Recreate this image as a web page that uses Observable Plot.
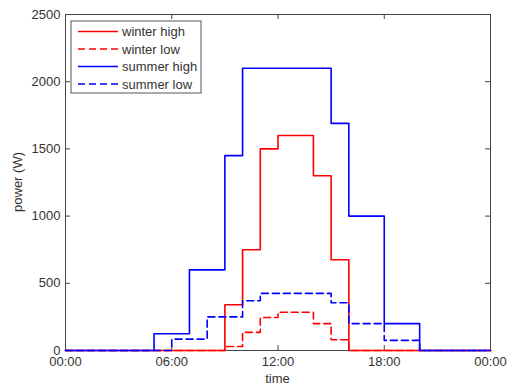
<!DOCTYPE html>
<html>
<head>
<meta charset="utf-8">
<script src="https://cdn.jsdelivr.net/npm/d3@7"></script>
<script src="https://cdn.jsdelivr.net/npm/@observablehq/plot@0.6"></script>
<style>
  html, body { margin: 0; padding: 0; background: #fff; }
  #chart { position: relative; width: 509px; height: 386px; }
</style>
</head>
<body>
<div id="chart"></div>
<script>
// hours 0..23 (value holds until next hour)
const hours = d3.range(0, 25);
const winterHigh = [0,0,0,0,0,0,0,0,0,340,750,1500,1600,1600,1300,675,0,0,0,0,0,0,0,0];
const winterLow  = [0,0,0,0,0,0,0,0,0,30,135,245,285,285,200,80,0,0,0,0,0,0,0,0];
const summerHigh = [0,0,0,0,0,125,125,600,600,1450,2100,2100,2100,2100,2100,1690,1000,1000,200,200,0,0,0,0];
const summerLow  = [0,0,0,0,0,0,85,85,250,250,370,425,425,425,425,355,200,200,75,75,0,0,0,0];

const seriesNames = ["winter high", "winter low", "summer high", "summer low"];
const seriesValues = [winterHigh, winterLow, summerHigh, summerLow];
const seriesColors = ["#ff0000", "#ff0000", "#0000ff", "#0000ff"];
const seriesDash = [null, "7,4", null, "7,4"];

const xTicks = [0, 6, 12, 18, 24];
const xTickLabels = ["00:00", "06:00", "12:00", "18:00", "00:00"];
const yTicks = [0, 500, 1000, 1500, 2000, 2500];

const W = 509, H = 386;
const mL = 65, mR = 19, mT = 14, mB = 36;
const innerW = W - mL - mR, innerH = H - mT - mB;
const tickLen = 5;

const seriesData = seriesValues.map(vals =>
  hours.map(h => ({h, v: vals[Math.min(h, vals.length - 1)]}))
);

const textColor = "#333";
const frameColor = "#444";
const fontFam = "Liberation Sans, Arial, sans-serif";

const marks = [
  Plot.frame({stroke: frameColor, strokeWidth: 1}),
  // inward ticks bottom/top
  Plot.tickX(xTicks, {x: d => d, stroke: frameColor, insetTop: innerH - tickLen}),
  Plot.tickX(xTicks, {x: d => d, stroke: frameColor, insetBottom: innerH - tickLen}),
  // inward ticks left/right
  Plot.tickY(yTicks, {y: d => d, stroke: frameColor, insetRight: innerW - tickLen}),
  Plot.tickY(yTicks, {y: d => d, stroke: frameColor, insetLeft: innerW - tickLen}),
  Plot.axisX({ticks: xTicks, tickSize: 0, tickPadding: 6, tickFormat: (d, i) => xTickLabels[i],
    label: null, fontSize: 13, color: textColor}),
  Plot.axisY({ticks: yTicks, tickSize: 0, tickPadding: 5, tickFormat: d => String(d),
    label: null, fontSize: 13, color: textColor}),
  ...seriesData.map((data, i) => Plot.line(data, {
    x: "h", y: "v", curve: "step-after",
    stroke: seriesColors[i], strokeWidth: 1.6,
    strokeDasharray: seriesDash[i] || undefined
  }))
];

const svgPlot = Plot.plot({
  width: W, height: H,
  marginLeft: mL, marginRight: mR, marginTop: mT, marginBottom: mB,
  style: {fontFamily: fontFam, fontSize: "13px", background: "#fff", color: textColor, overflow: "visible"},
  x: {domain: [0, 24]},
  y: {domain: [0, 2500]},
  marks
});

const svg = d3.select(svgPlot);
svg.selectAll("text").attr("fill", textColor);

// axis titles
svg.append("text")
  .attr("x", mL + innerW / 2).attr("y", H - 3)
  .attr("text-anchor", "middle")
  .attr("font-size", 13).attr("fill", textColor)
  .attr("font-family", fontFam)
  .text("time");
svg.append("text")
  .attr("transform", `translate(22,${mT + innerH / 2}) rotate(-90)`)
  .attr("text-anchor", "middle")
  .attr("font-size", 13).attr("fill", textColor)
  .attr("font-family", fontFam)
  .text("power (W)");

// legend
const lg = svg.append("g").attr("transform", "translate(71,21)");
lg.append("rect").attr("width", 130).attr("height", 72)
  .attr("fill", "#fff").attr("stroke", "#555").attr("stroke-width", 1);
seriesNames.forEach((name, i) => {
  const y = 10.5 + i * 17.5;
  lg.append("line").attr("x1", 7).attr("x2", 47).attr("y1", y).attr("y2", y)
    .attr("stroke", seriesColors[i]).attr("stroke-width", 1.6)
    .attr("stroke-dasharray", seriesDash[i]);
  lg.append("text").attr("x", 51).attr("y", y).attr("dy", "0.35em")
    .attr("text-anchor", "start")
    .attr("font-size", 13).attr("fill", textColor)
    .attr("font-family", fontFam)
    .text(name);
});

document.getElementById("chart").appendChild(svgPlot);
</script>
</body>
</html>
